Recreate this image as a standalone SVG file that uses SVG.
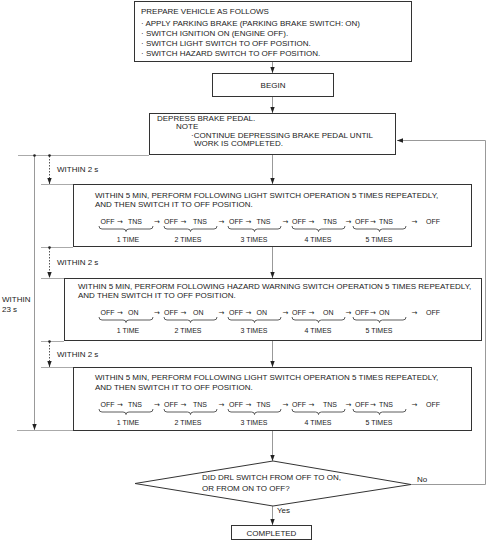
<svg xmlns="http://www.w3.org/2000/svg" width="490" height="542" viewBox="0 0 490 542">
<defs>
<style>
text{font-family:"Liberation Sans",Arial,sans-serif;font-size:8px;fill:#222}
.row{font-size:7px}
.ar{font-family:"DejaVu Sans",sans-serif;font-size:7px}
.lb{font-size:7px;text-anchor:middle}
.box{fill:#fff;stroke:#333;stroke-width:1}
.conn{fill:none;stroke:#999;stroke-width:1}
.tl{fill:none;stroke:#aaa;stroke-width:1}
.dot{fill:none;stroke:#555;stroke-width:1;stroke-dasharray:1.5,1.5}
.brace{fill:none;stroke:#333;stroke-width:0.8}
.c{text-anchor:middle}
</style>
<marker id="ah" viewBox="0 0 6 6" refX="6" refY="3" markerWidth="6" markerHeight="6" markerUnits="userSpaceOnUse" orient="auto">
<path d="M0,0.8 L6,3 L0,5.2 z" fill="#222"/>
</marker>
</defs>
<rect width="490" height="542" fill="#fff"/>

<g id="connectors">
<line class="conn" x1="272.5" y1="62" x2="272.5" y2="73" marker-end="url(#ah)"/>
<line class="conn" x1="272.5" y1="97" x2="272.5" y2="113" marker-end="url(#ah)"/>
<line class="conn" x1="272.5" y1="155" x2="272.5" y2="184" marker-end="url(#ah)"/>
<line class="conn" x1="272.5" y1="247" x2="272.5" y2="278" marker-end="url(#ah)"/>
<line class="conn" x1="272.5" y1="341" x2="272.5" y2="367" marker-end="url(#ah)"/>
<line class="conn" x1="272.5" y1="430" x2="272.5" y2="461" marker-end="url(#ah)"/>
<line class="conn" x1="272.5" y1="506" x2="272.5" y2="525" marker-end="url(#ah)"/>
<path class="conn" d="M411,484.5 H485.5 V140.5 H397" marker-end="url(#ah)"/>
<text x="417" y="482">No</text>
<text x="277" y="513">Yes</text>
</g>

<g id="timing">
<line class="tl" x1="18" y1="155.5" x2="149" y2="155.5"/>
<line class="tl" x1="41" y1="184.5" x2="73" y2="184.5"/>
<line class="tl" x1="41" y1="247.5" x2="73" y2="247.5"/>
<line class="tl" x1="41" y1="278.5" x2="64" y2="278.5"/>
<line class="tl" x1="41" y1="341.5" x2="64" y2="341.5"/>
<line class="tl" x1="41" y1="367.5" x2="73" y2="367.5"/>
<line class="tl" x1="17" y1="430.5" x2="73" y2="430.5"/>
<line class="conn" x1="34.5" y1="156" x2="34.5" y2="430" marker-end="url(#ah)"/>
<line class="dot" x1="49.5" y1="156" x2="49.5" y2="184" marker-end="url(#ah)"/>
<line class="dot" x1="49.5" y1="248" x2="49.5" y2="278" marker-end="url(#ah)"/>
<line class="dot" x1="49.5" y1="342" x2="49.5" y2="367" marker-end="url(#ah)"/>
<circle cx="34.5" cy="155.5" r="1.3" fill="#222"/>
<circle cx="49.5" cy="155.5" r="1.3" fill="#222"/>
<circle cx="49.5" cy="247.5" r="1.3" fill="#222"/>
<circle cx="49.5" cy="341.5" r="1.3" fill="#222"/>
<text x="57" y="172">WITHIN 2 s</text>
<text x="57" y="265">WITHIN 2 s</text>
<text x="57" y="357">WITHIN 2 s</text>
<text x="2" y="302">WITHIN</text>
<text x="2" y="312">23 s</text>
</g>

<g id="prepare">
<rect class="box" x="134.5" y="1.5" width="277" height="60"/>
<text x="141" y="13.5">PREPARE VEHICLE AS FOLLOWS</text>
<text x="141" y="25.5">· APPLY PARKING BRAKE (PARKING BRAKE SWITCH: ON)</text>
<text x="141" y="36">· SWITCH IGNITION ON (ENGINE OFF).</text>
<text x="141" y="46">· SWITCH LIGHT SWITCH TO OFF POSITION.</text>
<text x="141" y="56">· SWITCH HAZARD SWITCH TO OFF POSITION.</text>
</g>

<g id="begin">
<rect class="box" x="212.5" y="73.5" width="121" height="23"/>
<text class="c" x="273" y="88">BEGIN</text>
</g>

<g id="depress">
<rect class="box" x="149.5" y="113.5" width="246" height="41"/>
<text x="157" y="121">DEPRESS BRAKE PEDAL.</text>
<text x="176" y="129">NOTE</text>
<text x="191" y="137.5">·CONTINUE DEPRESSING BRAKE PEDAL UNTIL</text>
<text x="194" y="146">WORK IS COMPLETED.</text>
</g>

<g id="lightA">
<rect class="box" x="73.5" y="184.5" width="398" height="62"/>
<text x="95" y="198">WITHIN 5 MIN, PERFORM FOLLOWING LIGHT SWITCH OPERATION 5 TIMES REPEATEDLY,</text>
<text x="95" y="207">AND THEN SWITCH IT TO OFF POSITION.</text>
<text class="row" y="224"><tspan x="100.5">OFF</tspan><tspan class="ar" x="117">→</tspan><tspan x="128">TNS</tspan><tspan class="ar" x="154">→</tspan><tspan x="164">OFF</tspan><tspan class="ar" x="180.5">→</tspan><tspan x="193">TNS</tspan><tspan class="ar" x="218.5">→</tspan><tspan x="229">OFF</tspan><tspan class="ar" x="245.5">→</tspan><tspan x="256.5">TNS</tspan><tspan class="ar" x="282.5">→</tspan><tspan x="292">OFF</tspan><tspan class="ar" x="308.5">→</tspan><tspan x="323">TNS</tspan><tspan class="ar" x="345.5">→</tspan><tspan x="355">OFF</tspan><tspan class="ar" x="370">→</tspan><tspan x="379">TNS</tspan><tspan class="ar" x="411.5">→</tspan><tspan x="426">OFF</tspan></text>
<path class="brace" d="M99,226 q0,3 3,3 H123 q3,0 3,2.5 q0,-2.5 3,-2.5 H150 q3,0 3,-3"/>
<path class="brace" d="M164,226 q0,3 3,3 H187.5 q3,0 3,2.5 q0,-2.5 3,-2.5 H214 q3,0 3,-3"/>
<path class="brace" d="M228,226 q0,3 3,3 H251.5 q3,0 3,2.5 q0,-2.5 3,-2.5 H278 q3,0 3,-3"/>
<path class="brace" d="M292,226 q0,3 3,3 H315.5 q3,0 3,2.5 q0,-2.5 3,-2.5 H342 q3,0 3,-3"/>
<path class="brace" d="M353,226 q0,3 3,3 H376.5 q3,0 3,2.5 q0,-2.5 3,-2.5 H403 q3,0 3,-3"/>
<text class="lb" x="128" y="241.5">1 TIME</text>
<text class="lb" x="188" y="241.5">2 TIMES</text>
<text class="lb" x="254" y="241.5">3 TIMES</text>
<text class="lb" x="318" y="241.5">4 TIMES</text>
<text class="lb" x="379" y="241.5">5 TIMES</text>
</g>

<g id="hazard">
<rect class="box" x="64.5" y="278.5" width="417" height="62"/>
<text x="78" y="288.5">WITHIN 5 MIN, PERFORM FOLLOWING HAZARD WARNING SWITCH OPERATION 5 TIMES REPEATEDLY,</text>
<text x="78" y="298">AND THEN SWITCH IT TO OFF POSITION.</text>
<text class="row" y="315"><tspan x="100.5">OFF</tspan><tspan class="ar" x="117">→</tspan><tspan x="128">ON</tspan><tspan class="ar" x="154">→</tspan><tspan x="164">OFF</tspan><tspan class="ar" x="180.5">→</tspan><tspan x="193">ON</tspan><tspan class="ar" x="218.5">→</tspan><tspan x="229">OFF</tspan><tspan class="ar" x="245.5">→</tspan><tspan x="256.5">ON</tspan><tspan class="ar" x="282.5">→</tspan><tspan x="292">OFF</tspan><tspan class="ar" x="308.5">→</tspan><tspan x="323">ON</tspan><tspan class="ar" x="345.5">→</tspan><tspan x="355">OFF</tspan><tspan class="ar" x="370">→</tspan><tspan x="379">ON</tspan><tspan class="ar" x="411.5">→</tspan><tspan x="426">OFF</tspan></text>
<path class="brace" d="M99,317 q0,3 3,3 H123 q3,0 3,2.5 q0,-2.5 3,-2.5 H150 q3,0 3,-3"/>
<path class="brace" d="M164,317 q0,3 3,3 H187.5 q3,0 3,2.5 q0,-2.5 3,-2.5 H214 q3,0 3,-3"/>
<path class="brace" d="M228,317 q0,3 3,3 H251.5 q3,0 3,2.5 q0,-2.5 3,-2.5 H278 q3,0 3,-3"/>
<path class="brace" d="M292,317 q0,3 3,3 H315.5 q3,0 3,2.5 q0,-2.5 3,-2.5 H342 q3,0 3,-3"/>
<path class="brace" d="M353,317 q0,3 3,3 H376.5 q3,0 3,2.5 q0,-2.5 3,-2.5 H403 q3,0 3,-3"/>
<text class="lb" x="128" y="332.5">1 TIME</text>
<text class="lb" x="188" y="332.5">2 TIMES</text>
<text class="lb" x="254" y="332.5">3 TIMES</text>
<text class="lb" x="318" y="332.5">4 TIMES</text>
<text class="lb" x="379" y="332.5">5 TIMES</text>
</g>

<g id="lightC">
<rect class="box" x="73.5" y="367.5" width="398" height="63"/>
<text x="95" y="380">WITHIN 5 MIN, PERFORM FOLLOWING LIGHT SWITCH OPERATION 5 TIMES REPEATEDLY,</text>
<text x="95" y="389.5">AND THEN SWITCH IT TO OFF POSITION.</text>
<text class="row" y="407"><tspan x="100.5">OFF</tspan><tspan class="ar" x="117">→</tspan><tspan x="128">TNS</tspan><tspan class="ar" x="154">→</tspan><tspan x="164">OFF</tspan><tspan class="ar" x="180.5">→</tspan><tspan x="193">TNS</tspan><tspan class="ar" x="218.5">→</tspan><tspan x="229">OFF</tspan><tspan class="ar" x="245.5">→</tspan><tspan x="256.5">TNS</tspan><tspan class="ar" x="282.5">→</tspan><tspan x="292">OFF</tspan><tspan class="ar" x="308.5">→</tspan><tspan x="323">TNS</tspan><tspan class="ar" x="345.5">→</tspan><tspan x="355">OFF</tspan><tspan class="ar" x="370">→</tspan><tspan x="379">TNS</tspan><tspan class="ar" x="411.5">→</tspan><tspan x="426">OFF</tspan></text>
<path class="brace" d="M99,409 q0,3 3,3 H123 q3,0 3,2.5 q0,-2.5 3,-2.5 H150 q3,0 3,-3"/>
<path class="brace" d="M164,409 q0,3 3,3 H187.5 q3,0 3,2.5 q0,-2.5 3,-2.5 H214 q3,0 3,-3"/>
<path class="brace" d="M228,409 q0,3 3,3 H251.5 q3,0 3,2.5 q0,-2.5 3,-2.5 H278 q3,0 3,-3"/>
<path class="brace" d="M292,409 q0,3 3,3 H315.5 q3,0 3,2.5 q0,-2.5 3,-2.5 H342 q3,0 3,-3"/>
<path class="brace" d="M353,409 q0,3 3,3 H376.5 q3,0 3,2.5 q0,-2.5 3,-2.5 H403 q3,0 3,-3"/>
<text class="lb" x="128" y="424.5">1 TIME</text>
<text class="lb" x="188" y="424.5">2 TIMES</text>
<text class="lb" x="254" y="424.5">3 TIMES</text>
<text class="lb" x="318" y="424.5">4 TIMES</text>
<text class="lb" x="379" y="424.5">5 TIMES</text>
</g>

<g id="decision">
<polygon class="box" points="273,461 411,484.5 273,506 135,483.5"/>
<text x="202" y="480">DID DRL SWITCH FROM OFF TO ON,</text>
<text x="202" y="491">OR FROM ON TO OFF?</text>
</g>

<g id="completed">
<rect class="box" x="231.5" y="525.5" width="80" height="14"/>
<text class="c" x="271.5" y="535.5">COMPLETED</text>
</g>
</svg>
